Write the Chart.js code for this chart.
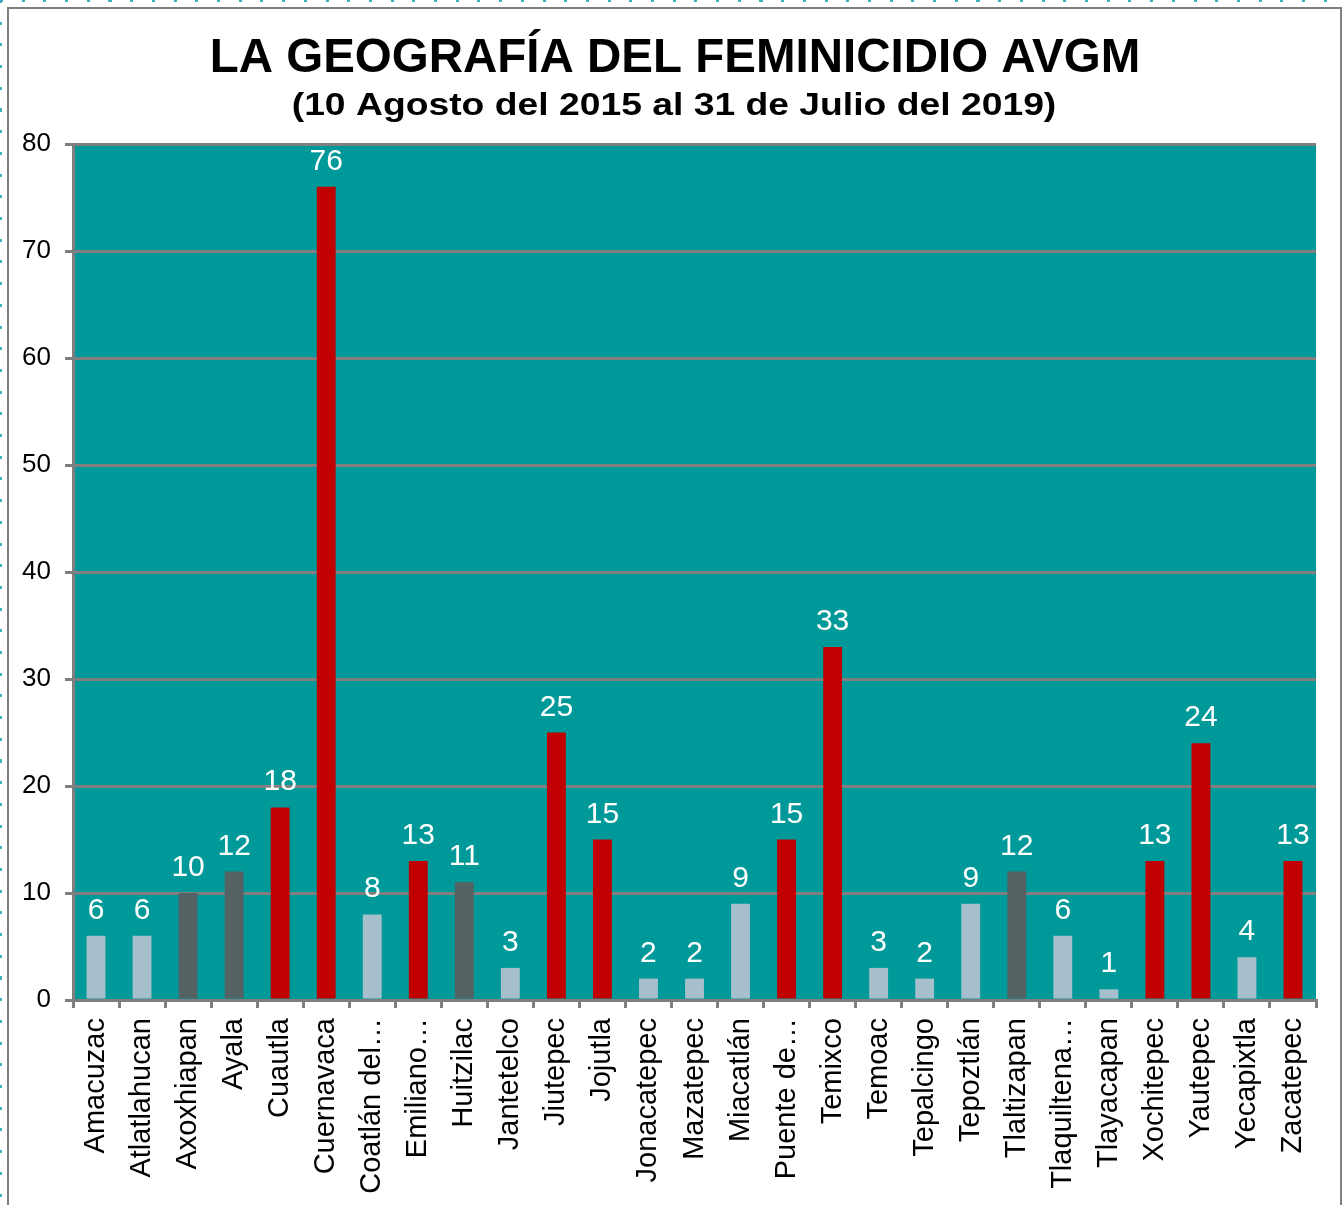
<!DOCTYPE html>
<html>
<head>
<meta charset="utf-8">
<script src="https://cdn.jsdelivr.net/npm/chart.js@4"></script>
<style>
    html, body { margin: 0; padding: 0; background: #fff; overflow: hidden; }
    #page { position: relative; width: 1343px; height: 1205px; overflow: hidden; }
    .dotsTop { position: absolute; left: 0; top: 0; width: 1343px; height: 2px;
        background: repeating-linear-gradient(to right, #40b0bc 0 3px, transparent 3px 21.7px); }
    .dotsLeft { position: absolute; left: 0; top: 0; width: 2px; height: 1205px;
        background: repeating-linear-gradient(to bottom, #40b0bc 0 3px, transparent 3px 21.7px); }
    #frame { position: absolute; left: 7px; top: 7px; width: 1331px; height: 1220px; border: 2px solid #7f7f7f; }
    #wrap { position: absolute; left: 9px; top: 9px; width: 1331px; height: 1196px; }
</style>
</head>
<body>
<div id="page">
    <div class="dotsTop"></div>
    <div class="dotsLeft"></div>
    <div id="frame"></div>
    <div id="wrap"><canvas id="barChart"></canvas></div>
</div>
<script>
const titulo = 'LA GEOGRAFÍA DEL FEMINICIDIO AVGM';
const subtitulo = '(10 Agosto del 2015 al 31 de Julio del 2019)';
const municipios = [
    'Amacuzac', 'Atlatlahucan', 'Axoxhiapan', 'Ayala', 'Cuautla', 'Cuernavaca',
    'Coatlán del…', 'Emiliano…', 'Huitzilac', 'Jantetelco', 'Jiutepec', 'Jojutla',
    'Jonacatepec', 'Mazatepec', 'Miacatlán', 'Puente de…', 'Temixco', 'Temoac',
    'Tepalcingo', 'Tepoztlán', 'Tlaltizapan', 'Tlaquiltena…', 'Tlayacapan',
    'Xochitepec', 'Yautepec', 'Yecapixtla', 'Zacatepec'
];
const feminicidios = [6, 6, 10, 12, 18, 76, 8, 13, 11, 3, 25, 15, 2, 2, 9, 15, 33, 3, 2, 9, 12, 6, 1, 13, 24, 4, 13];
// nivel: 0 = bajo (claro), 1 = medio (gris), 2 = alto (rojo)
const nivel = [0, 0, 1, 1, 2, 2, 0, 2, 1, 0, 2, 2, 0, 0, 0, 2, 2, 0, 0, 0, 1, 0, 0, 2, 2, 0, 2];
const yTicks = [0, 10, 20, 30, 40, 50, 60, 70, 80];

const FONT = '"Liberation Sans", Arial, sans-serif';
const colorNivel = ['#a5bfcc', '#546264', '#c00000'];
const barColors = nivel.map(n => colorNivel[n]);

// fondo verde del área de trazado
const fondoPlot = {
    id: 'fondoPlot',
    beforeDraw(chart) {
        const { ctx, chartArea: a } = chart;
        ctx.save();
        ctx.fillStyle = '#009999';
        ctx.fillRect(a.left, a.top, a.right - a.left, a.bottom - a.top);
        ctx.restore();
    }
};

// título y subtítulo (el subtítulo va algo ensanchado, como en el original)
const encabezado = {
    id: 'encabezado',
    afterDraw(chart) {
        const ctx = chart.ctx;
        ctx.save();
        ctx.fillStyle = '#000';
        ctx.textAlign = 'center';
        ctx.textBaseline = 'alphabetic';
        ctx.font = 'bold 47.5px ' + FONT;
        ctx.fillText(titulo, 666, 63);
        ctx.translate(665, 106);
        ctx.scale(1.165, 1);
        ctx.font = 'bold 32px ' + FONT;
        ctx.fillText(subtitulo, 0, 0);
        ctx.restore();
    }
};

// etiquetas blancas encima de cada barra
const etiquetas = {
    id: 'etiquetas',
    afterDatasetsDraw(chart) {
        const ctx = chart.ctx;
        const meta = chart.getDatasetMeta(0);
        ctx.save();
        ctx.fillStyle = '#ffffff';
        ctx.font = '30px ' + FONT;
        ctx.textAlign = 'center';
        ctx.textBaseline = 'alphabetic';
        meta.data.forEach((bar, i) => {
            ctx.fillText(String(feminicidios[i]), bar.x, bar.y - 17);
        });
        ctx.restore();
    }
};

new Chart(document.getElementById('barChart').getContext('2d'), {
    type: 'bar',
    data: {
        labels: municipios,
        datasets: [{
            data: feminicidios,
            backgroundColor: barColors,
            borderWidth: 0,
            categoryPercentage: 1,
            barPercentage: 0.41
        }]
    },
    options: {
        responsive: true,
        maintainAspectRatio: false,
        animation: false,
        events: [],
        layout: { padding: { top: 135, left: 0, right: 24, bottom: 0 } },
        plugins: {
            legend: { display: false },
            tooltip: { enabled: false },
            title: { display: false }
        },
        scales: {
            x: {
                offset: true,
                grid: {
                    offset: true,
                    drawOnChartArea: false,
                    drawTicks: true,
                    tickLength: 8,
                    color: '#7f7f7f',
                    lineWidth: 3
                },
                border: { display: true, color: '#7f7f7f', width: 3 },
                ticks: {
                    autoSkip: false,
                    minRotation: 90,
                    maxRotation: 90,
                    padding: 10,
                    color: '#000',
                    font: { family: FONT, size: 29 }
                },
                afterFit(scale) { scale.height = 205; }
            },
            y: {
                min: 0,
                max: 80,
                afterBuildTicks(scale) { scale.ticks = yTicks.map(v => ({ value: v })); },
                grid: {
                    color: '#7f7f7f',
                    lineWidth: 3,
                    tickLength: 8
                },
                border: { display: true, color: '#7f7f7f', width: 3 },
                ticks: {
                    padding: 14,
                    color: '#000',
                    font: { family: FONT, size: 26 }
                },
                afterFit(scale) { scale.width = 64; }
            }
        }
    },
    plugins: [fondoPlot, encabezado, etiquetas]
});
</script>
</body>
</html>
